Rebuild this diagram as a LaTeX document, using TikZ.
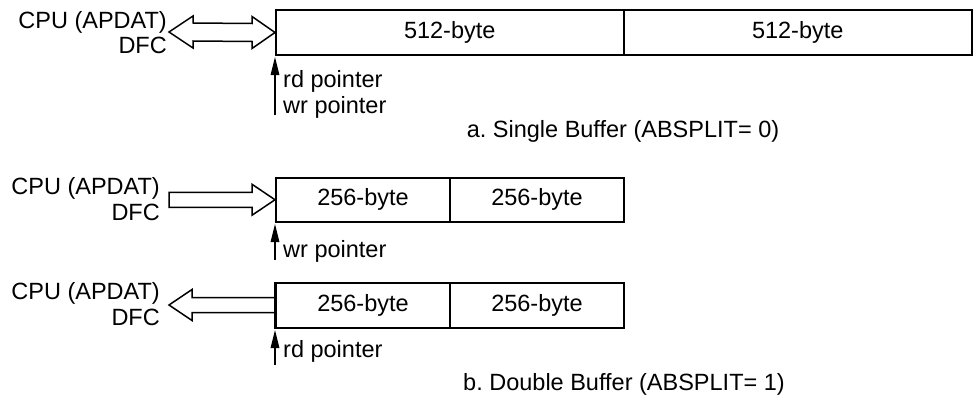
\documentclass[tikz,border=0pt]{standalone}
\usepackage{fontspec}
\setmainfont{Liberation Sans}
\frenchspacing
\usetikzlibrary{arrows.meta,calc}
\tikzset{
  cell/.style={draw, line width=2pt, inner sep=0pt, minimum height=#1, anchor=north west, font=\fontsize{23.5}{28}\selectfont},
  lbl/.style={inner sep=0pt, font=\fontsize{23.5}{28}\selectfont},
  blockarrow/.style={draw, line width=1.5pt, line join=miter, fill=white},
  ptr/.style={line width=1.4pt, -{Triangle[length=18pt,width=8.5pt]}}
}
\begin{document}
\begin{tikzpicture}[x=1pt,y=-1pt]
\useasboundingbox (0,0) rectangle (974,396);
% ---------- a. single buffer ----------
\node[cell=45pt, minimum width=347.5pt] (a1) at (275,9) {512-byte};
\node[cell=45pt, minimum width=348.5pt] (a2) at (622.5,9) {512-byte};
\node[lbl, anchor=base east] (acpu) at (167,28.3) {CPU (APDAT)};
\node[lbl, anchor=base east] (adfc) at (167,53) {DFC};
\coordinate (aw) at (a1.west);
\draw[blockarrow] (169,32) -- (193,16) -- (193,23) -- ($(aw)+(-23,-9)$) -- ($(aw)+(-23,-16)$) -- (aw)
  -- ($(aw)+(-23,16)$) -- ($(aw)+(-23,9)$) -- (193,41) -- (193,48) -- cycle;
\coordinate (ap) at (275,115);
\coordinate (apt) at (275,57);
\draw[ptr] (ap) -- (apt);
\node[lbl, anchor=base west] (ard) at (283,87) {rd pointer};
\node[lbl, anchor=base west] (awr) at (283,113) {wr pointer};
\node[lbl, anchor=base] (acap) at (623,137) {a. Single Buffer (ABSPLIT= 0)};
% ---------- b. double buffer, write ----------
\node[cell=44.5pt, minimum width=174pt] (b1) at (275,176.5) {256-byte};
\node[cell=44.5pt, minimum width=174pt] (b2) at (449,176.5) {256-byte};
\node[lbl, anchor=base east] (bcpu) at (160,194.3) {CPU (APDAT)};
\node[lbl, anchor=base east] (bdfc) at (160,220.7) {DFC};
\coordinate (bw) at (b1.west);
\draw[blockarrow] ($(bw)+(-106,-7.5)$) -- ($(bw)+(-23,-7.5)$) -- ($(bw)+(-23,-15.5)$) -- (bw)
  -- ($(bw)+(-23,15.5)$) -- ($(bw)+(-23,7.5)$) -- ($(bw)+(-106,7.5)$) -- cycle;
\coordinate (bp) at (275,260);
\coordinate (bpt) at (275,224);
\draw[ptr] (bp) -- (bpt);
\node[lbl, anchor=base west] (bwr) at (283,257) {wr pointer};
% ---------- b. double buffer, read ----------
\node[cell=45pt, minimum width=174pt] (c1) at (275,281.5) {256-byte};
\node[cell=45pt, minimum width=174pt] (c2) at (449,281.5) {256-byte};
\node[lbl, anchor=base east] (ccpu) at (160,299) {CPU (APDAT)};
\node[lbl, anchor=base east] (cdfc) at (160,325.7) {DFC};
\coordinate (cw) at (c1.west);
\draw[blockarrow] ($(cw)+(-106,0)$) -- ($(cw)+(-83,-15.5)$) -- ($(cw)+(-83,-7.5)$) -- ($(cw)+(0,-7.5)$)
  -- ($(cw)+(0,7.5)$) -- ($(cw)+(-83,7.5)$) -- ($(cw)+(-83,15.5)$) -- cycle;
\draw[line width=2pt] (c1.north west) -- (c1.south west);
\coordinate (cp) at (275,365);
\coordinate (cpt) at (275,330);
\draw[ptr] (cp) -- (cpt);
\node[lbl, anchor=base west] (crd) at (283,357) {rd pointer};
\node[lbl, anchor=base] (ccap) at (624,390) {b. Double Buffer (ABSPLIT= 1)};
\end{tikzpicture}
\end{document}
